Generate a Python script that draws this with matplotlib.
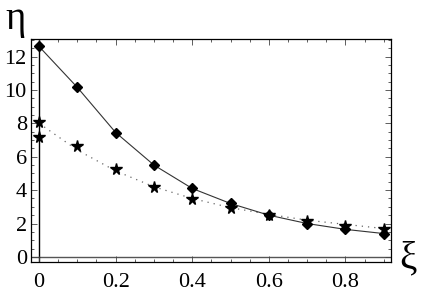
import matplotlib.pyplot as plt
from matplotlib.ticker import MultipleLocator

plt.rcParams['font.family'] = ['Liberation Serif', 'DejaVu Serif']

# data
xi = [0.0, 0.1, 0.2, 0.3, 0.4, 0.5, 0.6, 0.7, 0.8, 0.9]
eta_diamond = [12.6, 10.15, 7.45, 5.5, 4.1, 3.2, 2.5, 2.0, 1.65, 1.4]
xi_star = [0.0, 0.0, 0.1, 0.2, 0.3, 0.4, 0.5, 0.6, 0.7, 0.8, 0.9]
eta_star = [8.1, 7.2, 6.65, 5.25, 4.2, 3.45, 2.9, 2.5, 2.15, 1.85, 1.65]
# dotted fit curve
xi_fit = [0.0, 0.1, 0.2, 0.3, 0.4, 0.5, 0.6, 0.7, 0.8, 0.9]
eta_fit = [8.0, 6.4, 5.15, 4.2, 3.5, 2.95, 2.55, 2.2, 1.95, 1.7]

fig = plt.figure(figsize=(4.23, 2.93), dpi=100)
ax = fig.add_axes([0.0733, 0.106, 0.851, 0.761])

ax.axhline(0, color="#555555", lw=1.0, zorder=1)
ax.axvline(0, color="black", lw=1.0, zorder=1)

ax.plot(xi_fit, eta_fit, color="#666666", lw=0.9, linestyle=(0, (1, 4)), zorder=2)
ax.plot(xi, eta_diamond, color="#333333", lw=0.8, zorder=2)
ax.plot(xi, eta_diamond, linestyle="none", marker="D", markersize=5.2,
        color="black", zorder=3)
ax.plot(xi_star, eta_star, linestyle="none", marker="*", markersize=8.5,
        color="black", zorder=3)

ax.set_xlim(-0.021, 0.919)
ax.set_ylim(-0.3, 13.05)

ax.xaxis.set_minor_locator(MultipleLocator(0.05))
ax.yaxis.set_major_locator(MultipleLocator(2))
ax.yaxis.set_minor_locator(MultipleLocator(0.5))
ax.set_xticks([0, 0.2, 0.4, 0.6, 0.8])
ax.set_xticklabels(["0", "0.2", "0.4", "0.6", "0.8"])

ax.tick_params(which="both", direction="in", top=True, right=True,
               color="#444444", width=0.6, labelsize=16)
ax.tick_params(which="major", length=4)
ax.tick_params(which="minor", length=2)
ax.tick_params(axis="x", pad=8)
ax.tick_params(axis="y", pad=3)

for s in ax.spines.values():
    s.set_linewidth(0.9)

fig.text(0.037, 0.935, "η", fontsize=28, ha="center", va="center")
fig.text(0.965, 0.115, "ξ", fontsize=28, ha="center", va="center")

fig.savefig("out.png", dpi=100)
